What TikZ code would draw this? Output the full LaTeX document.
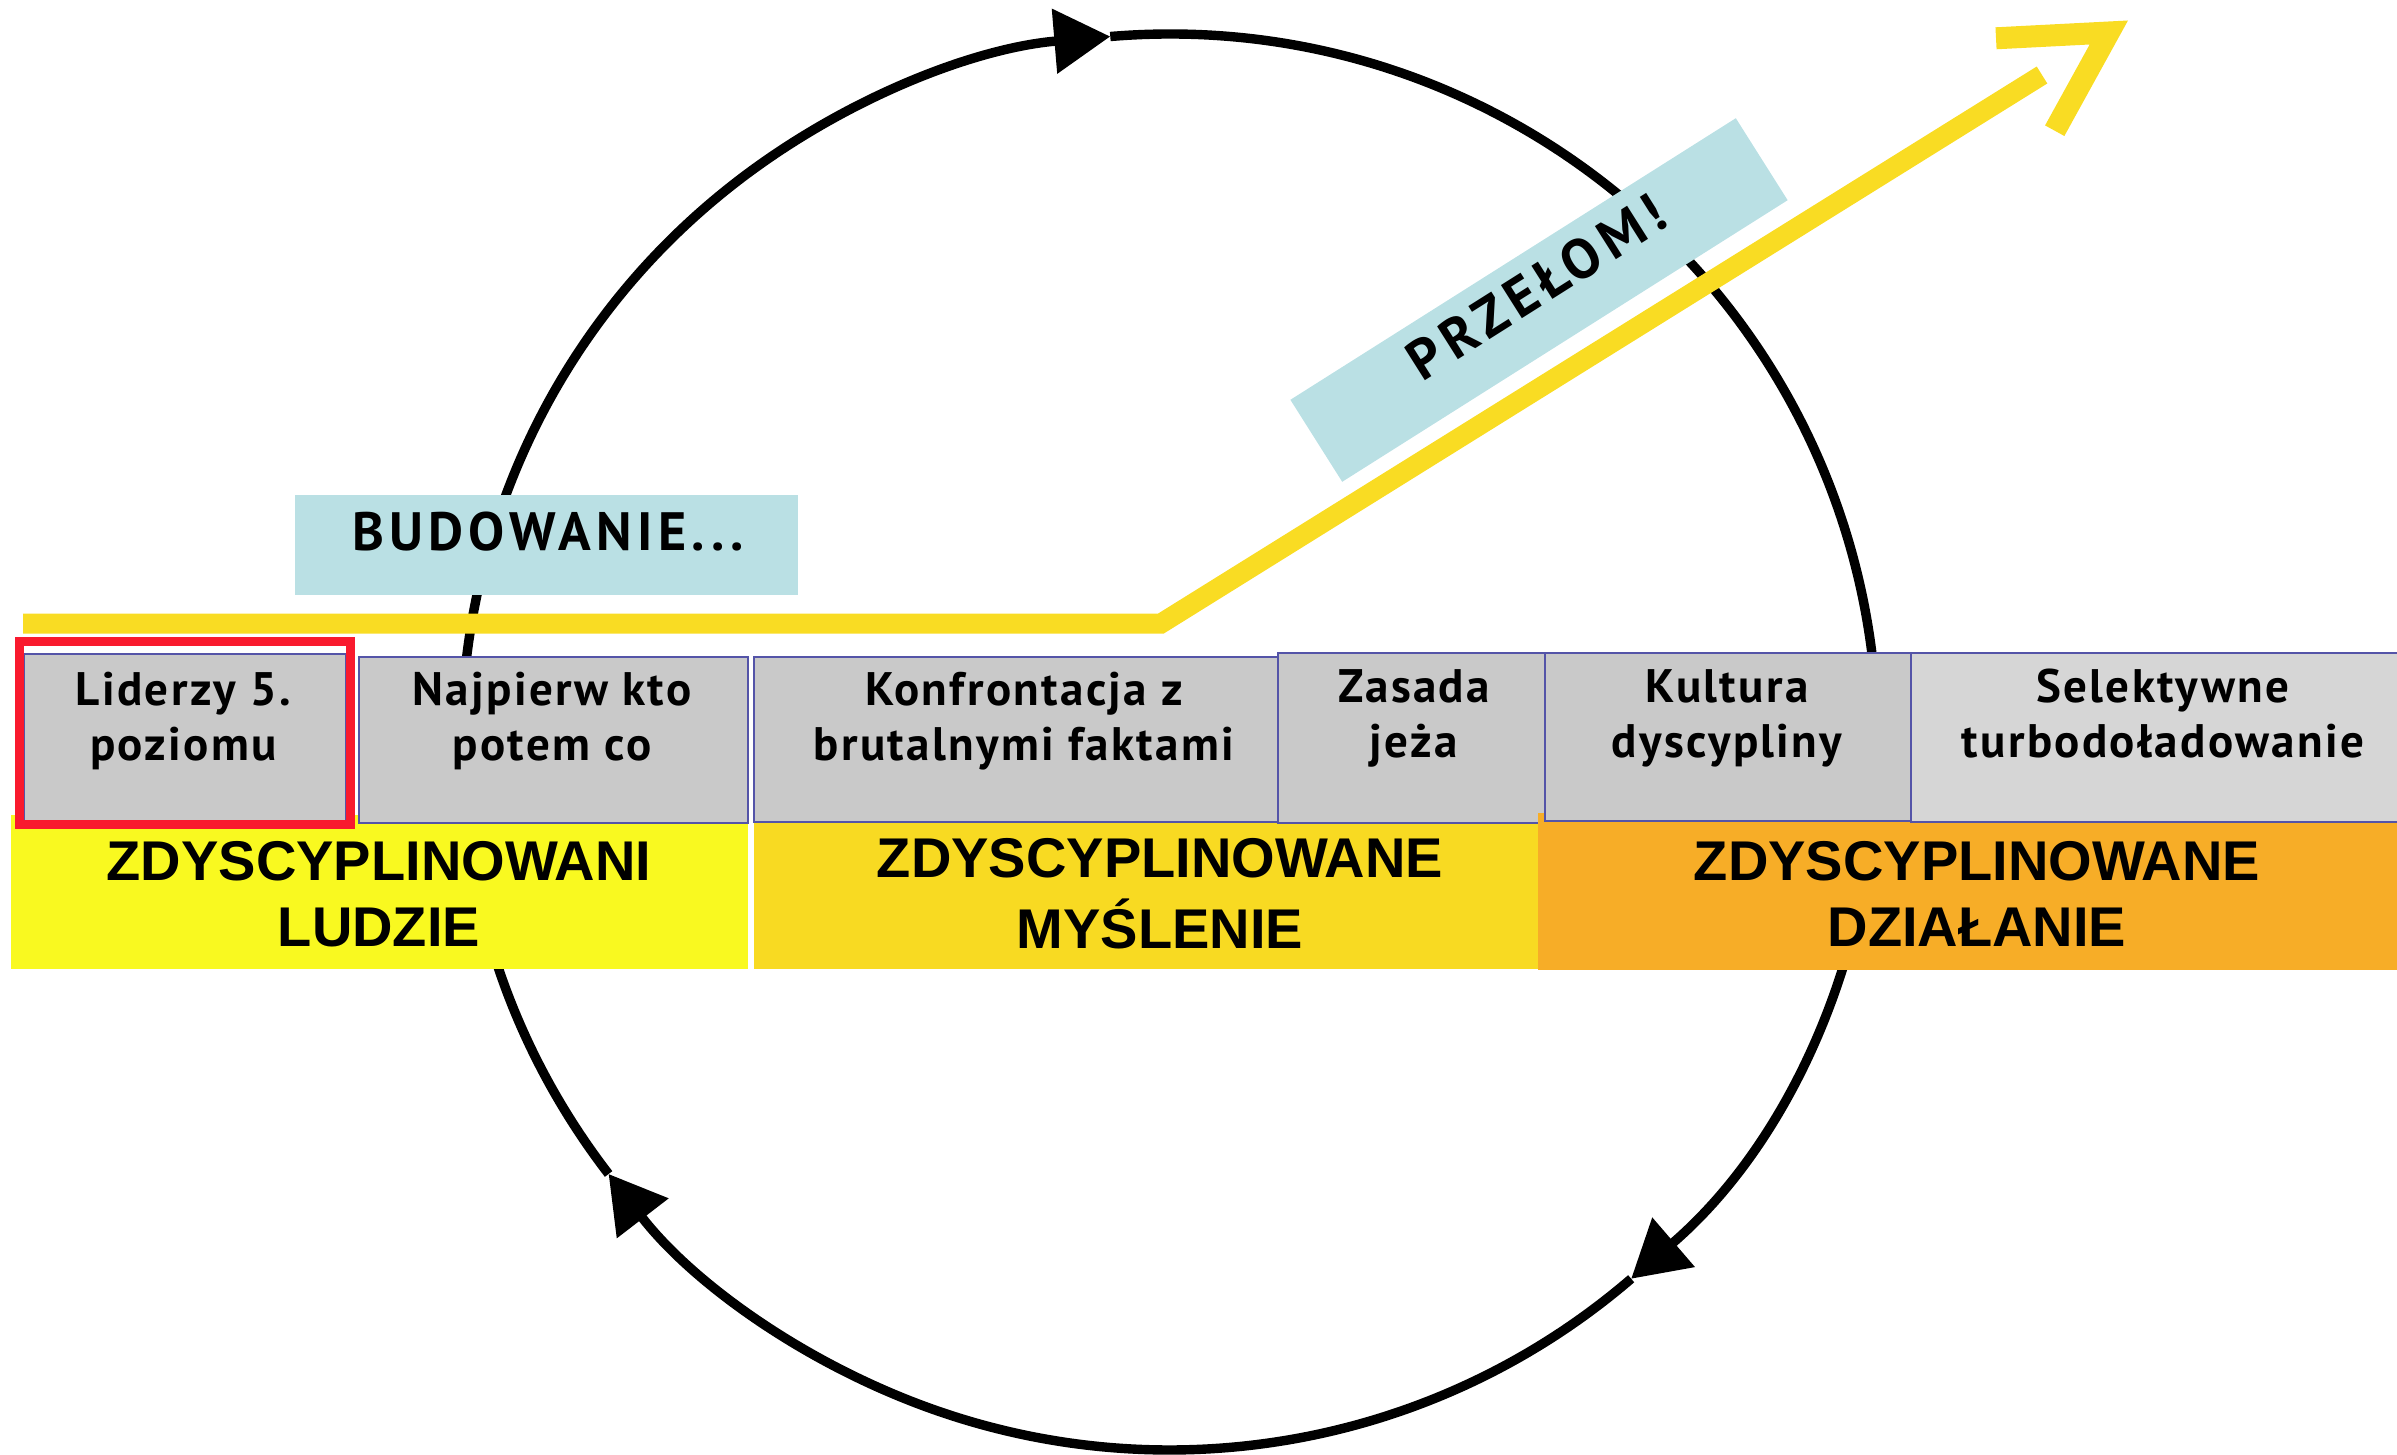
\documentclass[tikz,border=0pt]{standalone}
\usepackage{fontspec}
\setmainfont{PT Sans}
\newfontfamily\bandfont{Liberation Sans}
\newfontfamily\boxfont[LetterSpace=5]{PT Sans}
\newfontfamily\capsfont[LetterSpace=10]{PT Sans}
\newfontfamily\tiltfont[LetterSpace=12]{PT Sans}
\usetikzlibrary{arrows.meta,fit}

\definecolor{cgray}{RGB}{201,201,201}
\definecolor{cgrayl}{RGB}{214,214,214}
\definecolor{cborder}{RGB}{84,84,168}
\definecolor{cyelA}{RGB}{249,249,32}
\definecolor{cyelB}{RGB}{248,218,34}
\definecolor{corange}{RGB}{247,173,39}
\definecolor{cline}{RGB}{249,220,35}
\definecolor{cblue}{RGB}{186,224,228}
\definecolor{cred}{RGB}{249,26,46}

\tikzset{
  graybox/.style={draw=cborder, line width=1pt, fill=cgray, inner sep=0pt},
  boxtext/.style={font=\boxfont\bfseries\fontsize{23.5}{27.5}\selectfont, align=center, inner sep=0pt},
  bandtext/.style={font=\bandfont\bfseries\fontsize{28}{33}\selectfont, align=center, inner sep=0pt},
  band/.style={inner sep=0pt, draw=none},
  tag/.style={fill=cblue, inner sep=0pt},
  tagtext/.style={font=\capsfont\bfseries\fontsize{27}{30}\selectfont, inner sep=0pt},
  tilttext/.style={font=\tiltfont\bfseries\fontsize{28}{30}\selectfont, inner sep=0pt},
  ring/.style={line width=4.7pt, draw=black},
  ringtip/.style={-{Triangle[length=28pt,width=31.5pt]}},
  yline/.style={draw=cline, line width=10pt, line join=miter},
  chevron/.style={draw=cline, line width=11pt, line join=miter, miter limit=10},
}

\begin{document}
\begin{tikzpicture}[x=0.5pt,y=-0.5pt]
\useasboundingbox (0,0) rectangle (2397,1455);

% cycle
\coordinate (cc) at (1169.5,742);
\draw[ring, ringtip] (cc) ++(-94.8:708) arc[start angle=-94.8, end angle=49.3, radius=708];
\draw[ring, ringtip] (cc) ++(49.3:708) arc[start angle=49.3, end angle=142.4, radius=708];
\draw[ring, ringtip] (cc) ++(142.4:708) arc[start angle=142.4, end angle=265.2, radius=708];

% labels on light blue
\node[tag, fit={(295,495) (798,595)}] (tag1) {};
\node[tagtext] (budtxt) at (548,532) {BUDOWANIE...};
\node[tag, minimum width=263.5pt, minimum height=48.5pt, rotate=32.3] (tag2) at (1539,300) {};
\node[tilttext, rotate=32.3] (przelom) at (1536,287) {PRZEŁOM!};

% yellow path with open arrow head
\coordinate (ys) at (23,623.5);
\coordinate (yb) at (1161,623.5);
\coordinate (ye) at (2042,75);
\draw[yline] (ys) -- (yb) -- (ye);
\coordinate (ca) at (1996,38.3);
\coordinate (ct) at (2108.8,32.5);
\coordinate (cb) at (2054.7,130.7);
\draw[chevron] (ca) -- (ct) -- (cb);

% bands
\node[band, fill=cyelA, fit={(10.7,815) (747.5,969)}] (band1) {};
\node[band, fill=cyelB, fit={(753.6,815) (1560,969)}] (band2) {};

% gray boxes
\node[graybox, fit={(24,654) (346,822)}] (b1) {};
\node[graybox, fit={(359,657) (747.5,822.5)}] (b2) {};
\node[graybox, fit={(753.6,657) (1278,822)}] (b3) {};
\node[graybox, fit={(1278,653) (1545,823)}] (b4) {};
\node[band, fill=corange, fit={(1538,812.7) (2400,970)}] (band3) {};
\node[graybox, fit={(1545,653) (1911,820.7)}] (b5) {};
\node[graybox, fill=cgrayl, fit={(1911,653) (2405,822)}] (b6) {};

\node[draw=cred, line width=4.5pt, inner sep=0pt, fit={(19.5,641.5) (350.5,824.5)}] (redframe) {};

% box texts
\node[boxtext] (t1) at (183.5,722) {\strut Liderzy 5.\\\strut poziomu};
\node[boxtext] (t2) at (552,722) {\strut Najpierw kto\\\strut potem co};
\node[boxtext] (t3) at (1024,722) {\strut Konfrontacja z\\\strut brutalnymi faktami};
\node[boxtext] (t4) at (1414,719) {\strut Zasada\\\strut jeża};
\node[boxtext] (t5) at (1727,719) {\strut Kultura\\\strut dyscypliny};
\node[boxtext] (t6) at (2163,719) {\strut Selektywne\\\strut turbodoładowanie};

% band texts
\node[bandtext] (l1) at (379,900) {\strut ZDYSCYPLINOWANI\\\strut LUDZIE};
\node[bandtext] (l2) at (1160,900) {\strut ZDYSCYPLINOWANE\\\strut MYŚLENIE};
\node[bandtext] (l3) at (1977,900) {\strut ZDYSCYPLINOWANE\\\strut DZIAŁANIE};
\end{tikzpicture}
\end{document}
